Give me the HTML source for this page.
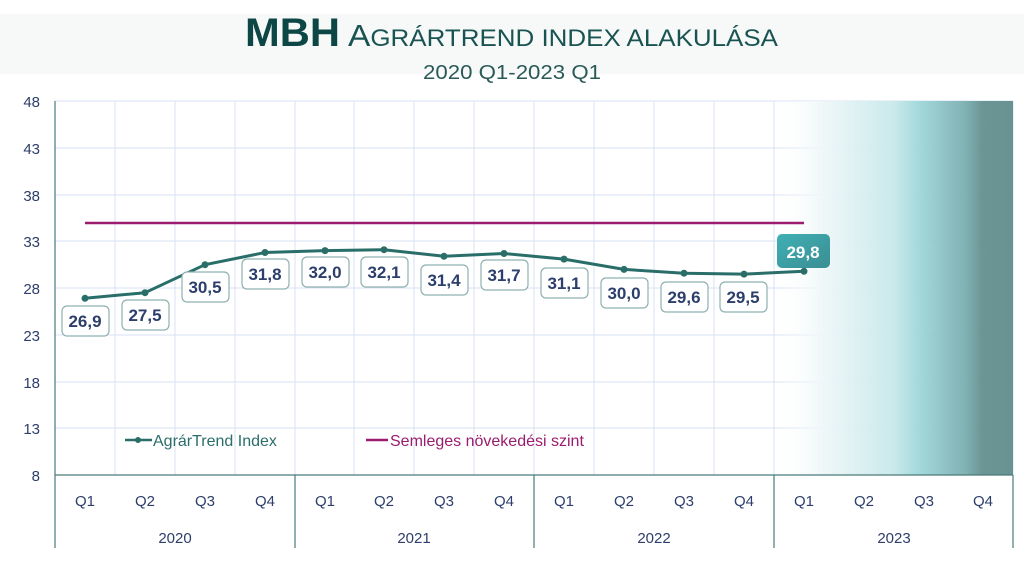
<!DOCTYPE html>
<html><head><meta charset="utf-8"><style>
body{margin:0;background:#fff;}
svg text{font-family:"Liberation Sans",sans-serif;}
</style></head><body>
<svg width="1024" height="576" xmlns="http://www.w3.org/2000/svg">
<defs>
<linearGradient id="g" x1="0" x2="1" y1="0" y2="0">
<stop offset="0" stop-color="#fff" stop-opacity="0"/>
<stop offset="0.2" stop-color="#eef7f8"/>
<stop offset="0.5" stop-color="#c8e8ea"/>
<stop offset="0.6" stop-color="#a0d8db"/>
<stop offset="0.8" stop-color="#7aaeb0"/>
<stop offset="0.87" stop-color="#64908f"/>
<stop offset="1" stop-color="#5f8d8c"/>
</linearGradient>
<linearGradient id="hl" x1="0" x2="1" y1="0" y2="1">
<stop offset="0" stop-color="#3fb0b5"/><stop offset="1" stop-color="#3a8e93"/>
</linearGradient>
</defs>
<rect x="0" y="14" width="1024" height="60" fill="#f7f9f9"/>
<text x="245" y="46" font-weight="bold" font-size="40" fill="#0d4745" textLength="95" lengthAdjust="spacingAndGlyphs">MBH</text>
<text x="348" y="46" fill="#1a5452" textLength="430" lengthAdjust="spacingAndGlyphs"><tspan font-size="31">A</tspan><tspan font-size="24">GRÁRTREND INDEX ALAKULÁSA</tspan></text>
<text x="512" y="79" text-anchor="middle" font-size="20" fill="#2a5a58" textLength="178" lengthAdjust="spacingAndGlyphs">2020 Q1-2023 Q1</text>
<g stroke="#d8e2f4" stroke-width="1">
<line x1="55" x2="1013" y1="101" y2="101"/><line x1="55" x2="1013" y1="148" y2="148"/><line x1="55" x2="1013" y1="195" y2="195"/><line x1="55" x2="1013" y1="241" y2="241"/><line x1="55" x2="1013" y1="288" y2="288"/><line x1="55" x2="1013" y1="335" y2="335"/><line x1="55" x2="1013" y1="382" y2="382"/><line x1="55" x2="1013" y1="428" y2="428"/>
<line x1="115" x2="115" y1="101" y2="475"/><line x1="175" x2="175" y1="101" y2="475"/><line x1="235" x2="235" y1="101" y2="475"/><line x1="295" x2="295" y1="101" y2="475"/><line x1="354" x2="354" y1="101" y2="475"/><line x1="414" x2="414" y1="101" y2="475"/><line x1="474" x2="474" y1="101" y2="475"/><line x1="534" x2="534" y1="101" y2="475"/><line x1="594" x2="594" y1="101" y2="475"/><line x1="654" x2="654" y1="101" y2="475"/><line x1="714" x2="714" y1="101" y2="475"/><line x1="774" x2="774" y1="101" y2="475"/><line x1="834" x2="834" y1="101" y2="475"/><line x1="894" x2="894" y1="101" y2="475"/><line x1="953" x2="953" y1="101" y2="475"/><line x1="1013" x2="1013" y1="101" y2="475"/>
</g>
<rect x="775" y="101" width="238" height="374" fill="url(#g)" opacity="0.95"/>
<g stroke="#4a7a7a" stroke-width="1.2">
<line x1="55" x2="55" y1="101" y2="548"/><line x1="55" x2="1013" y1="475" y2="475"/>
<line x1="295" x2="295" y1="475" y2="548"/><line x1="534" x2="534" y1="475" y2="548"/><line x1="774" x2="774" y1="475" y2="548"/><line x1="1013" x2="1013" y1="475" y2="548"/>
</g>
<g font-size="15" fill="#2c3e6b" text-anchor="end">
<text x="40" y="107">48</text><text x="40" y="154">43</text><text x="40" y="201">38</text><text x="40" y="247">33</text><text x="40" y="294">28</text><text x="40" y="341">23</text><text x="40" y="388">18</text><text x="40" y="434">13</text><text x="40" y="481">8</text>
</g>
<g font-size="15" fill="#2c3e6b" text-anchor="middle">
<text x="85" y="506">Q1</text><text x="145" y="506">Q2</text><text x="205" y="506">Q3</text><text x="265" y="506">Q4</text>
<text x="325" y="506">Q1</text><text x="384" y="506">Q2</text><text x="444" y="506">Q3</text><text x="504" y="506">Q4</text>
<text x="564" y="506">Q1</text><text x="624" y="506">Q2</text><text x="684" y="506">Q3</text><text x="744" y="506">Q4</text>
<text x="804" y="506">Q1</text><text x="864" y="506">Q2</text><text x="924" y="506">Q3</text><text x="983" y="506">Q4</text>
<text x="175" y="543">2020</text><text x="414" y="543">2021</text><text x="654" y="543">2022</text><text x="894" y="543">2023</text>
</g>
<line x1="85" x2="804" y1="223" y2="223" stroke="#9b1b6e" stroke-width="2.5"/>
<polyline fill="none" stroke="#2a6e6a" stroke-width="3" stroke-linejoin="round" points="85,298.3 145,292.7 205,264.7 265,252.5 325,250.6 384,249.7 444,256.3 504,253.5 564,259.1 624,269.4 684,273.2 744,274.1 804,271.3"/>
<g fill="#2a6e6a">
<circle cx="85" cy="298.3" r="3.5"/><circle cx="145" cy="292.7" r="3.5"/><circle cx="205" cy="264.7" r="3.5"/><circle cx="265" cy="252.5" r="3.5"/><circle cx="325" cy="250.6" r="3.5"/><circle cx="384" cy="249.7" r="3.5"/><circle cx="444" cy="256.3" r="3.5"/><circle cx="504" cy="253.5" r="3.5"/><circle cx="564" cy="259.1" r="3.5"/><circle cx="624" cy="269.4" r="3.5"/><circle cx="684" cy="273.2" r="3.5"/><circle cx="744" cy="274.1" r="3.5"/><circle cx="804" cy="271.3" r="3.5"/>
</g>
<g fill="#fff" stroke="#8fb0b0" stroke-width="1.2">
<rect x="62" y="306" width="47" height="30" rx="5"/><rect x="122" y="300" width="47" height="30" rx="5"/><rect x="182" y="272" width="47" height="30" rx="5"/><rect x="242" y="259" width="47" height="30" rx="5"/><rect x="302" y="257" width="47" height="30" rx="5"/><rect x="361" y="257" width="47" height="30" rx="5"/><rect x="421" y="265" width="47" height="30" rx="5"/><rect x="481" y="260" width="47" height="30" rx="5"/><rect x="541" y="268" width="47" height="30" rx="5"/><rect x="601" y="278" width="47" height="30" rx="5"/><rect x="661" y="282" width="47" height="30" rx="5"/><rect x="720" y="282" width="47" height="30" rx="5"/>
</g>
<rect x="777" y="234" width="53" height="34" rx="5" fill="url(#hl)"/>
<g font-size="17" font-weight="bold" fill="#2c3e6b" text-anchor="middle">
<text x="85" y="327">26,9</text><text x="145" y="321">27,5</text><text x="205" y="293">30,5</text><text x="265" y="280">31,8</text><text x="325" y="278">32,0</text><text x="384" y="278">32,1</text><text x="444" y="286">31,4</text><text x="504" y="281">31,7</text><text x="564" y="289">31,1</text><text x="624" y="299">30,0</text><text x="684" y="303">29,6</text><text x="743" y="303">29,5</text>
<text x="803" y="258" fill="#fff">29,8</text>
</g>
<line x1="125" x2="152" y1="440" y2="440" stroke="#2a6e6a" stroke-width="2.5"/><circle cx="138" cy="440" r="3" fill="#2a6e6a"/>
<text x="153" y="446" font-size="16" fill="#2a6e6a">AgrárTrend Index</text>
<line x1="366" x2="388" y1="440" y2="440" stroke="#9b1b6e" stroke-width="2.5"/>
<text x="390" y="446" font-size="16" fill="#9b1b6e">Semleges növekedési szint</text>
</svg>
</body></html>
